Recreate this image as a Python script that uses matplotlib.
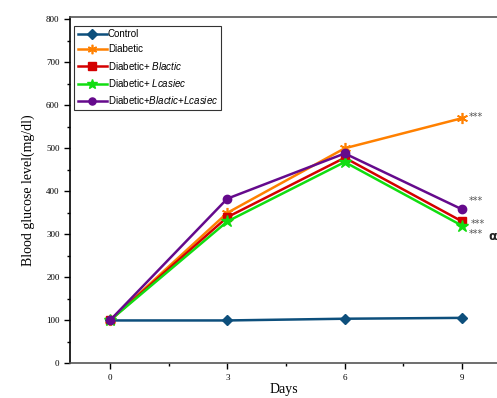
import matplotlib
matplotlib.use('Agg')
import matplotlib.pyplot as plt
from matplotlib.ticker import MultipleLocator

plt.rcParams['mathtext.fontset'] = 'custom'
plt.rcParams['mathtext.it'] = 'Liberation Sans:italic'
plt.rcParams['mathtext.rm'] = 'Liberation Sans'

days = [0, 3, 6, 9]
control = [100, 100, 104, 106]
diabetic = [100, 350, 500, 570]
blactic = [100, 340, 478, 330]
lcasiec = [100, 330, 468, 320]
both = [100, 383, 488, 358]

fig = plt.figure(figsize=(4.97, 3.98), dpi=100)
ax = fig.add_axes([0.1408, 0.0867, 0.8592, 0.8706])

lw = 1.8
ax.plot(days, control, color='#0d4f7c', marker='D', ms=5.5, lw=lw, label='Control')
ax.plot(days, diabetic, color='#ff8000', marker=(6, 2, 0), ms=8, mew=1.2, lw=lw, label='Diabetic')
ax.plot(days, blactic, color='#d40000', marker='s', ms=6, lw=lw, label='Diabetic+ $\\it{Blactic}$')
ax.plot(days, lcasiec, color='#11dd11', marker='*', ms=9, lw=lw, label='Diabetic+ $\\it{Lcasiec}$')
ax.plot(days, both, color='#650a8c', marker='o', ms=6, lw=lw, label='Diabetic+$\\it{Blactic}$+$\\it{Lcasiec}$')

# significance marks
star_kw = dict(textcoords='offset points', fontsize=7, color='#555555', va='center', ha='left')
ax.annotate('***', (days[-1], diabetic[-1]), xytext=(5, 1), **star_kw)
ax.annotate('***', (days[-1], both[-1]), xytext=(5, 6), **star_kw)
ax.annotate('***', (days[-1], blactic[-1]), xytext=(6, -2), **star_kw)
ax.annotate('***', (days[-1], lcasiec[-1]), xytext=(5, -6), **star_kw)
ax.annotate('α', (days[-1], lcasiec[-1]), xytext=(19, -8), textcoords='offset points',
            fontsize=9, fontweight='bold', color='#222222', va='center', ha='left')

ax.set_xlim(-1.02, 9.89)
ax.set_ylim(0, 805)
ax.set_xticks(days)
ax.xaxis.set_minor_locator(MultipleLocator(1.5))
ax.yaxis.set_major_locator(MultipleLocator(100))
ax.yaxis.set_minor_locator(MultipleLocator(50))
ax.tick_params(which='both', direction='out', width=1, labelsize=6.5)
ax.tick_params(which='major', length=4)
ax.tick_params(which='minor', length=2)
for lab in ax.get_xticklabels() + ax.get_yticklabels():
    lab.set_family('Liberation Serif')

for s in ['left', 'bottom', 'top']:
    ax.spines[s].set_linewidth(1.2)
ax.spines['left'].set_color('black')
ax.spines['bottom'].set_color('#555555')
ax.spines['top'].set_color('#555555')
ax.spines['right'].set_visible(False)

ax.set_xlabel('Days', family='Liberation Serif', fontsize=10, labelpad=1)
ax.set_ylabel('Blood glucose level(mg/dl)', family='Liberation Serif', fontsize=10, labelpad=8)

leg = ax.legend(loc='upper left', bbox_to_anchor=(0.01, 0.975), prop={'family': 'Liberation Sans', 'size': 7},
                frameon=True, fancybox=False, edgecolor='black', borderpad=0.35,
                handlelength=3.0, handletextpad=0.1, labelspacing=0.55, borderaxespad=0,
                markerscale=0.85)
leg.get_frame().set_linewidth(0.8)

fig.savefig('out.png', dpi=100)
